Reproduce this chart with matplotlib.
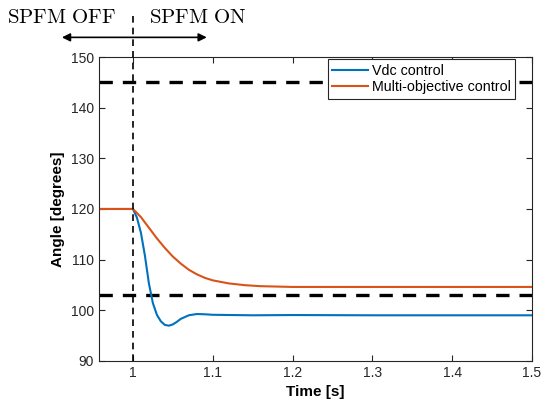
import numpy as np
import matplotlib.pyplot as plt

plt.rcParams['font.family'] = ['Liberation Sans', 'DejaVu Sans']
plt.rcParams['mathtext.fontset'] = 'cm'

# data
t_vdc = [0.96, 1.0, 1.005, 1.01, 1.015, 1.02, 1.025, 1.03, 1.035, 1.04, 1.045,
         1.05, 1.055, 1.06, 1.07, 1.08, 1.09, 1.1, 1.15, 1.2, 1.3, 1.4, 1.5]
vdc = [120, 120, 118.3, 115.3, 110.8, 105.3, 101.4, 99.1, 97.8, 97.1, 96.95,
       97.2, 97.7, 98.3, 99.0, 99.25, 99.2, 99.1, 99.0, 99.05, 99.0, 99.0, 99.0]

t_multi = [0.96, 1.0, 1.01, 1.02, 1.03, 1.04, 1.05, 1.06, 1.07, 1.08, 1.09,
           1.1, 1.12, 1.14, 1.16, 1.2, 1.3, 1.4, 1.5]
multi = [120, 120, 118.4, 116.3, 114.2, 112.3, 110.6, 109.2, 108.0, 107.1, 106.4,
         105.9, 105.3, 104.95, 104.75, 104.6, 104.6, 104.6, 104.6]

limits = [145, 103]
t_switch = 1.0

fig = plt.figure(figsize=(5.44, 4.05), dpi=100)
ax = fig.add_axes([0.182, 0.109, 0.796, 0.75])

for lim in limits:
    ax.axhline(lim, color='black', lw=2.4, ls=(0, (4, 3)), zorder=1)

ax.plot(t_vdc, vdc, color='#0072BD', lw=1.5, label='Vdc control', zorder=3)
ax.plot(t_multi, multi, color='#D95319', lw=1.5, label='Multi-objective control', zorder=3)

ax.axvline(t_switch, ymin=0, ymax=1.15, color='black', lw=1.2, ls=(0, (4, 3)),
           clip_on=False, zorder=4)

ax.annotate('', xy=(0.911, 153.9), xytext=(1.0925, 153.9),
            arrowprops=dict(arrowstyle='<|-|>', color='black', lw=1.2,
                            mutation_scale=12, shrinkA=0, shrinkB=0),
            annotation_clip=False)
ax.text(0.911, 157.8, r'$\mathrm{SPFM\ OFF}$', ha='center', va='center', fontsize=15)
ax.text(1.081, 157.8, r'$\mathrm{SPFM\ ON}$', ha='center', va='center', fontsize=15)

ax.set_xlim(0.9575, 1.5)
ax.set_ylim(90, 150)
ax.set_xticks([1, 1.1, 1.2, 1.3, 1.4, 1.5])
ax.set_xticklabels(['1', '1.1', '1.2', '1.3', '1.4', '1.5'])
ax.set_yticks(range(90, 151, 10))
ax.tick_params(direction='in', top=True, right=True, labelsize=10, length=4,
               colors='#262626')
for s in ax.spines.values():
    s.set_color('#262626')
    s.set_linewidth(0.8)

ax.set_xlabel('Time [s]', fontsize=11, fontweight='bold')
ax.set_ylabel('Angle [degrees]', fontsize=11, fontweight='bold')

leg = ax.legend(loc='upper right', bbox_to_anchor=(0.961, 0.993), fontsize=10.3,
                frameon=True, fancybox=False, framealpha=1, borderpad=0.3,
                handlelength=2.5, handletextpad=0.3, labelspacing=0.2,
                borderaxespad=0)
leg.get_frame().set_edgecolor('#262626')
leg.get_frame().set_linewidth(0.8)
leg.set_zorder(10)

fig.savefig('out.png', dpi=100)
